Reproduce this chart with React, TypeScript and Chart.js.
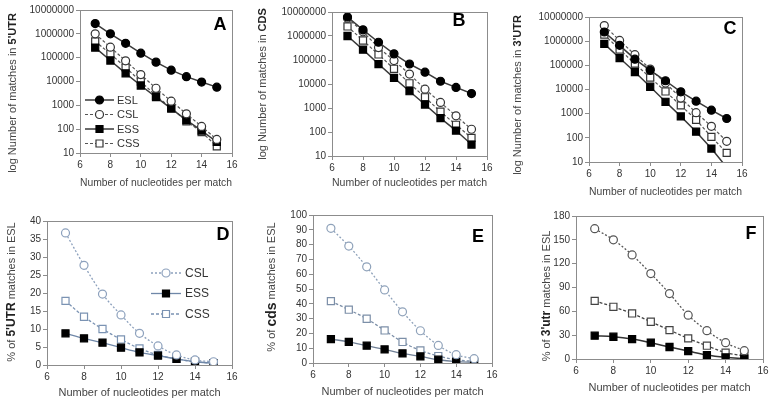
import React, { useEffect, useRef } from "react";
import { Chart, registerables } from "chart.js";
Chart.register(...registerables);

const FONT = "'Liberation Sans', Arial, sans-serif";

const nucleotides = [7, 8, 9, 10, 11, 12, 13, 14, 15];
const xTickValues = [6, 8, 10, 12, 14, 16];
const logTickValues = [10, 100, 1000, 10000, 100000, 1000000, 10000000];
const pctTicksD = [0, 5, 10, 15, 20, 25, 30, 35, 40];
const pctTicksE = [0, 10, 20, 30, 40, 50, 60, 70, 80, 90, 100];
const pctTicksF = [0, 30, 60, 90, 120, 150, 180];

// A: 5'UTR
const utr5ESL = [2700000, 1000000, 400000, 155000, 65000, 30000, 16000, 9500, 5800];
const utr5CSL = [1000000, 275000, 74000, 19600, 5200, 1500, 440, 130, 37];
const utr5ESS = [265000, 76000, 22000, 6800, 2200, 730, 240, 87, 29];
const utr5CSS = [480000, 145000, 39000, 10000, 2500, 780, 215, 76, 19];
// B: CDS
const cdsESL = [6200000, 1800000, 550000, 180000, 68000, 31000, 13000, 7200, 4000];
const cdsCSL = [5500000, 1500000, 330000, 95000, 26000, 6100, 1700, 470, 130];
const cdsESS = [1000000, 270000, 68000, 18000, 5000, 1400, 380, 115, 30];
const cdsCSS = [2500000, 650000, 170000, 43000, 10700, 2800, 700, 200, 57];
// C: 3'UTR
const utr3ESL = [2400000, 670000, 180000, 62000, 23000, 8000, 3300, 1400, 630];
const utr3CSL = [4400000, 1070000, 275000, 70000, 18600, 4400, 1100, 300, 72];
const utr3ESS = [770000, 200000, 53000, 13000, 3100, 770, 180, 36, 6];
const utr3CSS = [1860000, 450000, 117000, 31000, 8300, 2200, 560, 110, 24];
// D: % of 5'UTR matches in ESL
const pct5CSL = [36.7, 27.7, 19.7, 13.9, 8.8, 5.3, 2.8, 1.4, 0.9];
const pct5ESS = [8.8, 7.4, 6.2, 4.8, 3.5, 2.6, 1.7, 0.9, 0.5];
const pct5CSS = [17.8, 13.4, 10.0, 7.1, 4.6, 2.8, 1.7, 0.9, 0.5];
// E: % of cds matches in ESL
const pctCdsCSL = [91, 79, 65, 49.4, 34.6, 21.8, 11.9, 5.6, 2.9];
const pctCdsESS = [16.2, 14.2, 11.7, 9.2, 6.5, 4.5, 2.2, 0.9, 0.4];
const pctCdsCSS = [41.8, 36, 29.9, 22, 14.2, 8.5, 4.7, 2.2, 1.1];
// F: % of 3'utr matches in ESL
const pct3CSL = [164, 150, 131, 107.5, 82.4, 55.2, 35.6, 20.5, 10.5];
const pct3ESS = [29.3, 28, 25.1, 20.5, 15.1, 10, 5, 2.1, 0.4];
const pct3CSS = [73.2, 65.7, 57.3, 46.9, 36.4, 25.9, 16.7, 8.0, 3.8];

type Style = {
  marker: "circle" | "rect";
  fill: string;
  stroke: string;
  line: string;
  dash: number[];
  lw: number;
};

const sESL: Style = { marker: "circle", fill: "#000", stroke: "#000", line: "#3a3a3a", dash: [], lw: 1.5 };
const sCSL: Style = { marker: "circle", fill: "#fff", stroke: "#333", line: "#555", dash: [3, 2], lw: 1.2 };
const sESS: Style = { marker: "rect", fill: "#000", stroke: "#000", line: "#3a3a3a", dash: [], lw: 1.5 };
const sCSS: Style = { marker: "rect", fill: "#fff", stroke: "#333", line: "#555", dash: [3, 2], lw: 1.2 };

const dCSL: Style = { marker: "circle", fill: "#fff", stroke: "#8da1bd", line: "#8da1bd", dash: [2, 2], lw: 1.3 };
const dESS: Style = { marker: "rect", fill: "#000", stroke: "#000", line: "#6f87a8", dash: [], lw: 1.3 };
const dCSS: Style = { marker: "rect", fill: "#fff", stroke: "#7b93b3", line: "#7b93b3", dash: [3, 2], lw: 1.3 };

const eCSL: Style = { marker: "circle", fill: "#fff", stroke: "#8fa2ba", line: "#8fa2ba", dash: [2, 2], lw: 1.3 };
const eESS: Style = { marker: "rect", fill: "#000", stroke: "#000", line: "#6f7f95", dash: [], lw: 1.3 };
const eCSS: Style = { marker: "rect", fill: "#fff", stroke: "#7c8fa8", line: "#7c8fa8", dash: [3, 2], lw: 1.3 };

const fCSL: Style = { marker: "circle", fill: "#fff", stroke: "#555", line: "#555", dash: [2, 2], lw: 1.3 };
const fESS: Style = { marker: "rect", fill: "#000", stroke: "#000", line: "#333", dash: [], lw: 1.5 };
const fCSS: Style = { marker: "rect", fill: "#fff", stroke: "#444", line: "#444", dash: [3, 2], lw: 1.3 };

type Series = { label: string; data: number[]; style: Style };
type Part = { text: string; bold?: boolean; size?: number };

type PanelSpec = {
  cell: [number, number, number, number];
  area: [number, number, number, number]; // in canvas coords l,t,r,b
  xAxisH: number;
  log: boolean;
  yTicks: number[];
  series: Series[];
  tension: number;
  yTitle: Part[];
  yTitleX: number;
  yTitleCY: number;
  letter: string;
  letterPos: [number, number];
  legend?: { rows: number[]; x0: number; x1: number; tx: number; size: number };
};

const panels: PanelSpec[] = [
  {
    cell: [0, 0, 255, 200], area: [80, 10, 232, 153], xAxisH: 37, log: true, yTicks: logTickValues,
    series: [
      { label: "ESL", data: utr5ESL, style: sESL },
      { label: "CSL", data: utr5CSL, style: sCSL },
      { label: "ESS", data: utr5ESS, style: sESS },
      { label: "CSS", data: utr5CSS, style: sCSS },
    ],
    tension: 0,
    yTitle: [{ text: "log Number of matches in " }, { text: "5'UTR", bold: true }],
    yTitleX: 13, yTitleCY: 93, letter: "A", letterPos: [220, 25],
    legend: { rows: [100, 114.5, 129, 143.5], x0: 85, x1: 114, tx: 117, size: 11 },
  },
  {
    cell: [255, 0, 255, 200], area: [77, 12, 232, 156], xAxisH: 34, log: true, yTicks: logTickValues,
    series: [
      { label: "ESL", data: cdsESL, style: sESL },
      { label: "CSL", data: cdsCSL, style: sCSL },
      { label: "ESS", data: cdsESS, style: sESS },
      { label: "CSS", data: cdsCSS, style: sCSS },
    ],
    tension: 0,
    yTitle: [{ text: "log Number of matches in " }, { text: "CDS", bold: true }],
    yTitleX: 8, yTitleCY: 84, letter: "B", letterPos: [204, 21],
  },
  {
    cell: [510, 0, 263, 200], area: [79, 17, 232, 162], xAxisH: 37, log: true, yTicks: logTickValues,
    series: [
      { label: "ESL", data: utr3ESL, style: sESL },
      { label: "CSL", data: utr3CSL, style: sCSL },
      { label: "ESS", data: utr3ESS, style: sESS },
      { label: "CSS", data: utr3CSS, style: sCSS },
    ],
    tension: 0,
    yTitle: [{ text: "log Number of matches in " }, { text: "3'UTR", bold: true }],
    yTitleX: 8, yTitleCY: 95, letter: "C", letterPos: [220, 29],
  },
  {
    cell: [0, 200, 255, 207], area: [47, 21, 232, 165], xAxisH: 35, log: false, yTicks: pctTicksD,
    series: [
      { label: "CSL", data: pct5CSL, style: dCSL },
      { label: "ESS", data: pct5ESS, style: dESS },
      { label: "CSS", data: pct5CSS, style: dCSS },
    ],
    tension: 0.35,
    yTitle: [{ text: "% of " }, { text: "5'UTR", bold: true, size: 12 }, { text: " matches in ESL" }],
    yTitleX: 12, yTitleCY: 92, letter: "D", letterPos: [223, 35],
    legend: { rows: [73, 93.5, 114], x0: 151, x1: 181, tx: 185, size: 12 },
  },
  {
    cell: [255, 200, 255, 207], area: [58, 15, 237, 163], xAxisH: 36, log: false, yTicks: pctTicksE,
    series: [
      { label: "CSL", data: pctCdsCSL, style: eCSL },
      { label: "ESS", data: pctCdsESS, style: eESS },
      { label: "CSS", data: pctCdsCSS, style: eCSS },
    ],
    tension: 0.35,
    yTitle: [{ text: "% of " }, { text: "cds", bold: true, size: 14 }, { text: " matches in ESL" }],
    yTitleX: 17, yTitleCY: 87, letter: "E", letterPos: [223, 37],
  },
  {
    cell: [510, 200, 263, 207], area: [66, 16, 253, 159], xAxisH: 36, log: false, yTicks: pctTicksF,
    series: [
      { label: "CSL", data: pct3CSL, style: fCSL },
      { label: "ESS", data: pct3ESS, style: fESS },
      { label: "CSS", data: pct3CSS, style: fCSS },
    ],
    tension: 0.35,
    yTitle: [{ text: "% of " }, { text: "3'utr", bold: true, size: 12 }, { text: " matches in ESL" }],
    yTitleX: 37, yTitleCY: 96, letter: "F", letterPos: [241, 34],
  },
];

function drawMarker(ctx: CanvasRenderingContext2D, x: number, y: number, st: Style) {
  ctx.save();
  ctx.setLineDash([]);
  ctx.fillStyle = st.fill;
  ctx.strokeStyle = st.stroke;
  ctx.lineWidth = 1.2;
  ctx.beginPath();
  if (st.marker === "circle") ctx.arc(x, y, 4, 0, Math.PI * 2);
  else ctx.rect(x - 3.5, y - 3.5, 7, 7);
  ctx.fill();
  ctx.stroke();
  ctx.restore();
}

const decorPlugin = {
  id: "decor",
  afterDraw(chart: any, _args: any, opts: any) {
    const spec: PanelSpec = opts.spec;
    if (!spec) return;
    const ctx: CanvasRenderingContext2D = chart.ctx;
    const a = chart.chartArea;
    ctx.save();
    // frame
    ctx.strokeStyle = "#8c8c8c";
    ctx.lineWidth = 1;
    ctx.strokeRect(Math.round(a.left) + 0.5, Math.round(a.top) + 0.5, Math.round(a.right - a.left), Math.round(a.bottom - a.top));
    // panel letter
    ctx.fillStyle = "#000";
    ctx.font = `bold 18px ${FONT}`;
    ctx.textAlign = "center";
    ctx.textBaseline = "middle";
    ctx.fillText(spec.letter, spec.letterPos[0], spec.letterPos[1]);
    // y title with mixed weights
    ctx.save();
    ctx.translate(spec.yTitleX, spec.yTitleCY);
    ctx.rotate(-Math.PI / 2);
    ctx.textAlign = "left";
    ctx.textBaseline = "middle";
    const fontOf = (p: Part) => `${p.bold ? "bold " : ""}${p.size || 11}px ${FONT}`;
    let total = 0;
    for (const p of spec.yTitle) {
      ctx.font = fontOf(p);
      total += ctx.measureText(p.text).width;
    }
    let cx = -total / 2;
    for (const p of spec.yTitle) {
      ctx.font = fontOf(p);
      ctx.fillStyle = p.bold ? "#222" : "#444";
      ctx.fillText(p.text, cx, 0);
      cx += ctx.measureText(p.text).width;
    }
    ctx.restore();
    // legend
    if (spec.legend) {
      const lg = spec.legend;
      spec.series.forEach((s, i) => {
        const y = lg.rows[i];
        ctx.save();
        ctx.strokeStyle = s.style.line;
        ctx.lineWidth = s.style.lw;
        ctx.setLineDash(s.style.dash);
        ctx.beginPath();
        ctx.moveTo(lg.x0, y);
        ctx.lineTo(lg.x1, y);
        ctx.stroke();
        ctx.restore();
        drawMarker(ctx, (lg.x0 + lg.x1) / 2, y, s.style);
        ctx.fillStyle = "#333";
        ctx.font = `${lg.size}px ${FONT}`;
        ctx.textAlign = "left";
        ctx.textBaseline = "middle";
        ctx.fillText(s.label, lg.tx, y + 0.5);
      });
    }
    ctx.restore();
  },
};

function buildConfig(spec: PanelSpec): any {
  const [, , w, h] = spec.cell;
  const [l, t, r, b] = spec.area;
  const yAxisW = l - 2;
  return {
    type: "line",
    data: {
      datasets: spec.series.map((s) => ({
        label: s.label,
        data: nucleotides.map((x, i) => ({ x, y: s.data[i] })),
        borderColor: s.style.line,
        borderWidth: s.style.lw,
        borderDash: s.style.dash,
        pointStyle: s.style.marker,
        pointRadius: s.style.marker === "circle" ? 4 : 5,
        pointBackgroundColor: s.style.fill,
        pointBorderColor: s.style.stroke,
        pointBorderWidth: 1.2,
        tension: spec.tension,
        fill: false,
      })),
    },
    options: {
      animation: false,
      responsive: false,
      devicePixelRatio: 1,
      layout: { padding: { left: 2, top: t, right: w - r, bottom: h - b - spec.xAxisH } },
      plugins: {
        legend: { display: false },
        tooltip: { enabled: false },
        decor: { spec },
      },
      scales: {
        x: {
          type: "linear",
          min: 6,
          max: 16,
          afterBuildTicks: (s: any) => { s.ticks = xTickValues.map((v) => ({ value: v })); },
          afterFit: (s: any) => { s.height = spec.xAxisH; },
          grid: { drawOnChartArea: false, drawTicks: true, tickLength: 4, color: "#8c8c8c" },
          border: { color: "#8c8c8c", width: 1 },
          ticks: { padding: 2, color: "#333", font: { size: 10, family: FONT }, maxRotation: 0, autoSkip: false, callback: (v: any) => String(v) },
          title: { display: true, text: "Number of nucleotides per match", color: "#444", font: { size: 11, family: FONT }, padding: 0 },
        },
        y: {
          type: spec.log ? "logarithmic" : "linear",
          min: spec.yTicks[0],
          max: spec.yTicks[spec.yTicks.length - 1],
          afterBuildTicks: (s: any) => { s.ticks = spec.yTicks.map((v) => ({ value: v })); },
          afterFit: (s: any) => { s.width = yAxisW; },
          grid: { drawOnChartArea: false, drawTicks: true, tickLength: 4, color: "#8c8c8c" },
          border: { color: "#8c8c8c", width: 1 },
          ticks: { padding: 2, color: "#333", font: { size: 10, family: FONT }, autoSkip: false, callback: (v: any) => String(v) },
        },
      },
    },
    plugins: [decorPlugin],
  };
}

function Panel({ spec }: { spec: PanelSpec }) {
  const ref = useRef<HTMLCanvasElement>(null);
  useEffect(() => {
    const chart = new Chart(ref.current as HTMLCanvasElement, buildConfig(spec));
    return () => chart.destroy();
  }, [spec]);
  const [x, y, w, h] = spec.cell;
  return (
    <canvas
      ref={ref}
      width={w}
      height={h}
      style={{ position: "absolute", left: x, top: y, width: w, height: h, display: "block" }}
    />
  );
}

export default function App() {
  return (
    <div style={{ position: "absolute", left: 0, top: 0, width: 773, height: 407, background: "#fff", overflow: "hidden" }}>
      {panels.map((p) => (
        <Panel key={p.letter} spec={p} />
      ))}
    </div>
  );
}
